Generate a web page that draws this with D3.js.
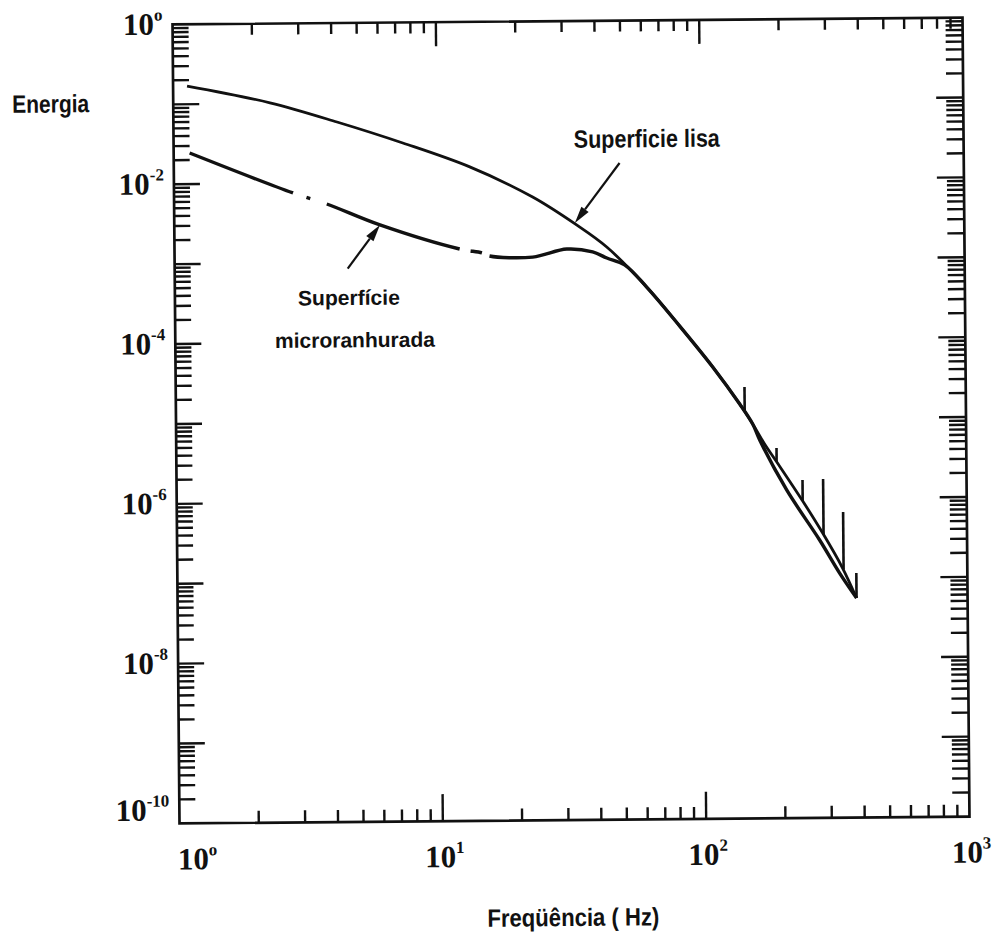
<!DOCTYPE html>
<html>
<head>
<meta charset="utf-8">
<script src="https://cdn.jsdelivr.net/npm/d3@7"></script>
<style>
  html, body { margin: 0; padding: 0; background: #fff; }
  svg { display: block; }
</style>
</head>
<body>
<svg id="chart" width="997" height="936"></svg>
<script>
// Smooth surface: frequency (Hz) and energy along the curve
const smoothFreq = [1.13, 2.33, 4.18, 7.42, 13.3, 23.0, 33.7, 43.8, 61.9, 82.4, 109.6, 138.4, 154.8, 171.5, 190.3, 238.3, 283.1, 336.0, 378.8];
const smoothEnergy = [0.169, 0.102, 0.0577, 0.0310, 0.0153, 6.32e-3, 2.80e-3, 1.47e-3, 4.59e-4, 1.48e-4, 4.52e-5, 1.54e-5, 8.63e-6, 4.84e-6, 2.89e-6, 9.27e-7, 3.66e-7, 1.33e-7, 5.58e-8];

// Micro-grooved surface
const microFreq = [1.15, 2.83, 3.80, 6.04, 12.1, 14.7, 15.7, 22.9, 30.9, 38.7, 43.8, 51.1, 61.9, 82.4, 109.6, 138.4, 154.8, 164.4, 207.3, 275.5, 327.3, 378.8];
const microEnergy = [2.45e-2, 7.55e-3, 5.45e-3, 2.94e-3, 1.44e-3, 1.28e-3, 1.17e-3, 1.12e-3, 1.40e-3, 1.28e-3, 1.07e-3, 8.75e-4, 4.59e-4, 1.48e-4, 4.52e-5, 1.54e-5, 8.63e-6, 5.43e-6, 1.28e-6, 3.00e-7, 1.15e-7, 5.58e-8];
// stretches of the dash-dot stroke that are inked, in Hz
const microRuns = [[1.15, 2.83], [3.18, 3.29], [3.80, 12.1], [13.3, 14.7], [15.7, 378.8]];

// vertical spikes rising from the high-frequency tail
const spikeFreq = [144.5, 190.3, 238.3, 285.3, 339, 378.8];
const spikeTop = [2.52e-5, 4.30e-6, 1.70e-6, 1.74e-6, 6.68e-7, 1.15e-7];
const spikeBase = [1.22e-5, 2.89e-6, 9.27e-7, 3.5e-7, 1.27e-7, 5.58e-8];

// axis labels (powers of ten)
const xLabelExps = [0, 1, 2, 3];
const yLabelExps = [0, -2, -4, -6, -8, -10];

// callouts: [text, freq, energy, width, size] and arrows: [tailFreq, tailE, tipFreq, tipE]
const callouts = [
  ["Superficie lisa", 33.1, 2.58e-2, 146, 25],
  ["Superfície", 2.93, 2.95e-4, 102, 21],
  ["microranhurada", 2.39, 8.7e-5, 160, 21]
];
const arrows = [
  [49.3, 1.65e-2, 33.2, 2.96e-3],
  [4.54, 8.43e-4, 6.04, 2.94e-3]
];

const X0 = 176, X1 = 966, Y0 = 21, Y1 = 820;
const ink = "#111";

const svg = d3.select("#chart");
const g = svg.append("g").attr("transform", "rotate(-0.5, 571, 420)");

const x = d3.scaleLog().domain([1, 1000]).range([X0, X1]);
const y = d3.scaleLog().domain([1, 1e-10]).range([Y0, Y1]);

// frame
g.append("rect")
  .attr("x", X0).attr("y", Y0).attr("width", X1 - X0).attr("height", Y1 - Y0)
  .attr("fill", "none").attr("stroke", ink).attr("stroke-width", 2.7);

// x ticks (top and bottom, pointing inward)
const xTicks = [];
for (let d = 0; d < 3; d++) for (let m = 1; m <= 9; m++) {
  const v = m * Math.pow(10, d);
  if (v > 1) xTicks.push({ v, major: m === 1 });
}
const tickG = g.append("g").attr("stroke", ink).attr("stroke-width", 2.4);
tickG.selectAll(".xb").data(xTicks).join("line")
  .attr("x1", d => x(d.v)).attr("x2", d => x(d.v))
  .attr("y1", Y1).attr("y2", d => Y1 - (d.major ? 27 : 12));
tickG.selectAll(".xt").data(xTicks).join("line")
  .attr("x1", d => x(d.v)).attr("x2", d => x(d.v))
  .attr("y1", Y0).attr("y2", d => Y0 + (d.major ? 24 : 11));

// y ticks (left and right, pointing inward)
const yTicks = [];
for (let k = 1; k <= 10; k++) for (let m = 1; m <= 9; m++) {
  const v = m * Math.pow(10, -k);
  if (v < 1 && v > 1e-10) yTicks.push({ v, major: m === 1 });
}
tickG.selectAll(".yl").data(yTicks).join("line")
  .attr("y1", d => y(d.v)).attr("y2", d => y(d.v))
  .attr("x1", X0).attr("x2", d => X0 + (d.major ? 26 : 16));
tickG.selectAll(".yr").data(yTicks).join("line")
  .attr("y1", d => y(d.v)).attr("y2", d => y(d.v))
  .attr("x1", X1).attr("x2", d => X1 - (d.major ? 27 : 17));

// tick labels
const serif = "'Liberation Serif', 'DejaVu Serif', serif";
const labels = g.append("g").attr("font-family", serif).attr("font-weight", "bold")
  .attr("font-size", 31).attr("fill", ink);
yLabelExps.forEach(e => {
  const t = labels.append("text")
    .attr("x", X0 - 10)
    .attr("y", Math.min(y(Math.pow(10, e)) + 10, Y1 - 3))
    .attr("text-anchor", "end");
  t.append("tspan").text("10");
  t.append("tspan").attr("font-size", 17).attr("dy", -14).text(e === 0 ? "o" : String(e));
});
xLabelExps.forEach(e => {
  const t = labels.append("text")
    .attr("x", Math.max(x(Math.pow(10, e)) - 18, X0 - 2))
    .attr("y", Y1 + 46);
  t.append("tspan").text("10");
  t.append("tspan").attr("font-size", 17).attr("dy", -14).text(e === 0 ? "o" : String(e));
});

// curves
const line = d3.line()
  .x(d => x(d[0])).y(d => y(d[1]))
  .curve(d3.curveCatmullRom.alpha(0.5));

const smoothPts = smoothFreq.map((f, i) => [f, smoothEnergy[i]]);
const microPts = microFreq.map((f, i) => [f, microEnergy[i]]);

g.append("path").attr("d", line(smoothPts))
  .attr("fill", "none").attr("stroke", ink).attr("stroke-width", 2.8)
  .attr("stroke-linejoin", "round");

const micro = g.append("path").attr("d", line(microPts))
  .attr("fill", "none").attr("stroke", ink).attr("stroke-width", 3.4)
  .attr("stroke-linejoin", "round");

// dash-dot pattern laid out along the path by frequency
const node = micro.node();
const total = node.getTotalLength();
function lengthAtX(xt) {
  let lo = 0, hi = total;
  for (let i = 0; i < 40; i++) {
    const mid = (lo + hi) / 2;
    if (node.getPointAtLength(mid).x < xt) lo = mid; else hi = mid;
  }
  return (lo + hi) / 2;
}
const marks = [];
microRuns.forEach(r => marks.push(lengthAtX(x(r[0])), lengthAtX(x(r[1]))));
marks[0] = 0;
marks[marks.length - 1] = total;
const dash = [];
for (let i = 1; i < marks.length; i++) dash.push(Math.max(marks[i] - marks[i - 1], 0.01));
dash.push(total);
micro.attr("stroke-dasharray", dash.join(" "));

// spikes
g.append("g").attr("stroke", ink).attr("stroke-width", 2.6)
  .selectAll("line").data(spikeFreq).join("line")
  .attr("x1", d => x(d)).attr("x2", d => x(d))
  .attr("y1", (d, i) => y(spikeBase[i])).attr("y2", (d, i) => y(spikeTop[i]));

// callout arrows
arrows.forEach(a => {
  const tx = x(a[0]), ty = y(a[1]), hx = x(a[2]), hy = y(a[3]);
  const len = Math.hypot(hx - tx, hy - ty);
  const ux = (hx - tx) / len, uy = (hy - ty) / len;
  const bx = hx - 17 * ux, by = hy - 17 * uy;
  g.append("line").attr("x1", tx).attr("y1", ty).attr("x2", bx).attr("y2", by)
    .attr("stroke", ink).attr("stroke-width", 2.2);
  g.append("path")
    .attr("d", `M${hx},${hy}L${bx - 4.5 * uy},${by + 4.5 * ux}L${bx + 4.5 * uy},${by - 4.5 * ux}Z`)
    .attr("fill", ink);
});

// text labels
const sans = "'Liberation Sans Narrow', 'Liberation Sans', Arial, sans-serif";
callouts.forEach(c => {
  g.append("text").attr("x", x(c[1])).attr("y", y(c[2]))
    .attr("font-family", sans).attr("font-weight", "bold").attr("font-size", c[4])
    .attr("textLength", c[3]).attr("lengthAdjust", "spacingAndGlyphs")
    .attr("fill", ink).text(c[0]);
});

g.append("text").attr("x", 15).attr("y", 108)
  .attr("font-family", sans).attr("font-weight", "bold").attr("font-size", 25)
  .attr("textLength", 77).attr("lengthAdjust", "spacingAndGlyphs")
  .attr("fill", ink).text("Energia");

g.append("text").attr("x", 483).attr("y", 926)
  .attr("font-family", sans).attr("font-weight", "bold").attr("font-size", 25)
  .attr("textLength", 172).attr("lengthAdjust", "spacingAndGlyphs")
  .attr("fill", ink).text("Freqüência ( Hz)");
</script>
</body>
</html>
